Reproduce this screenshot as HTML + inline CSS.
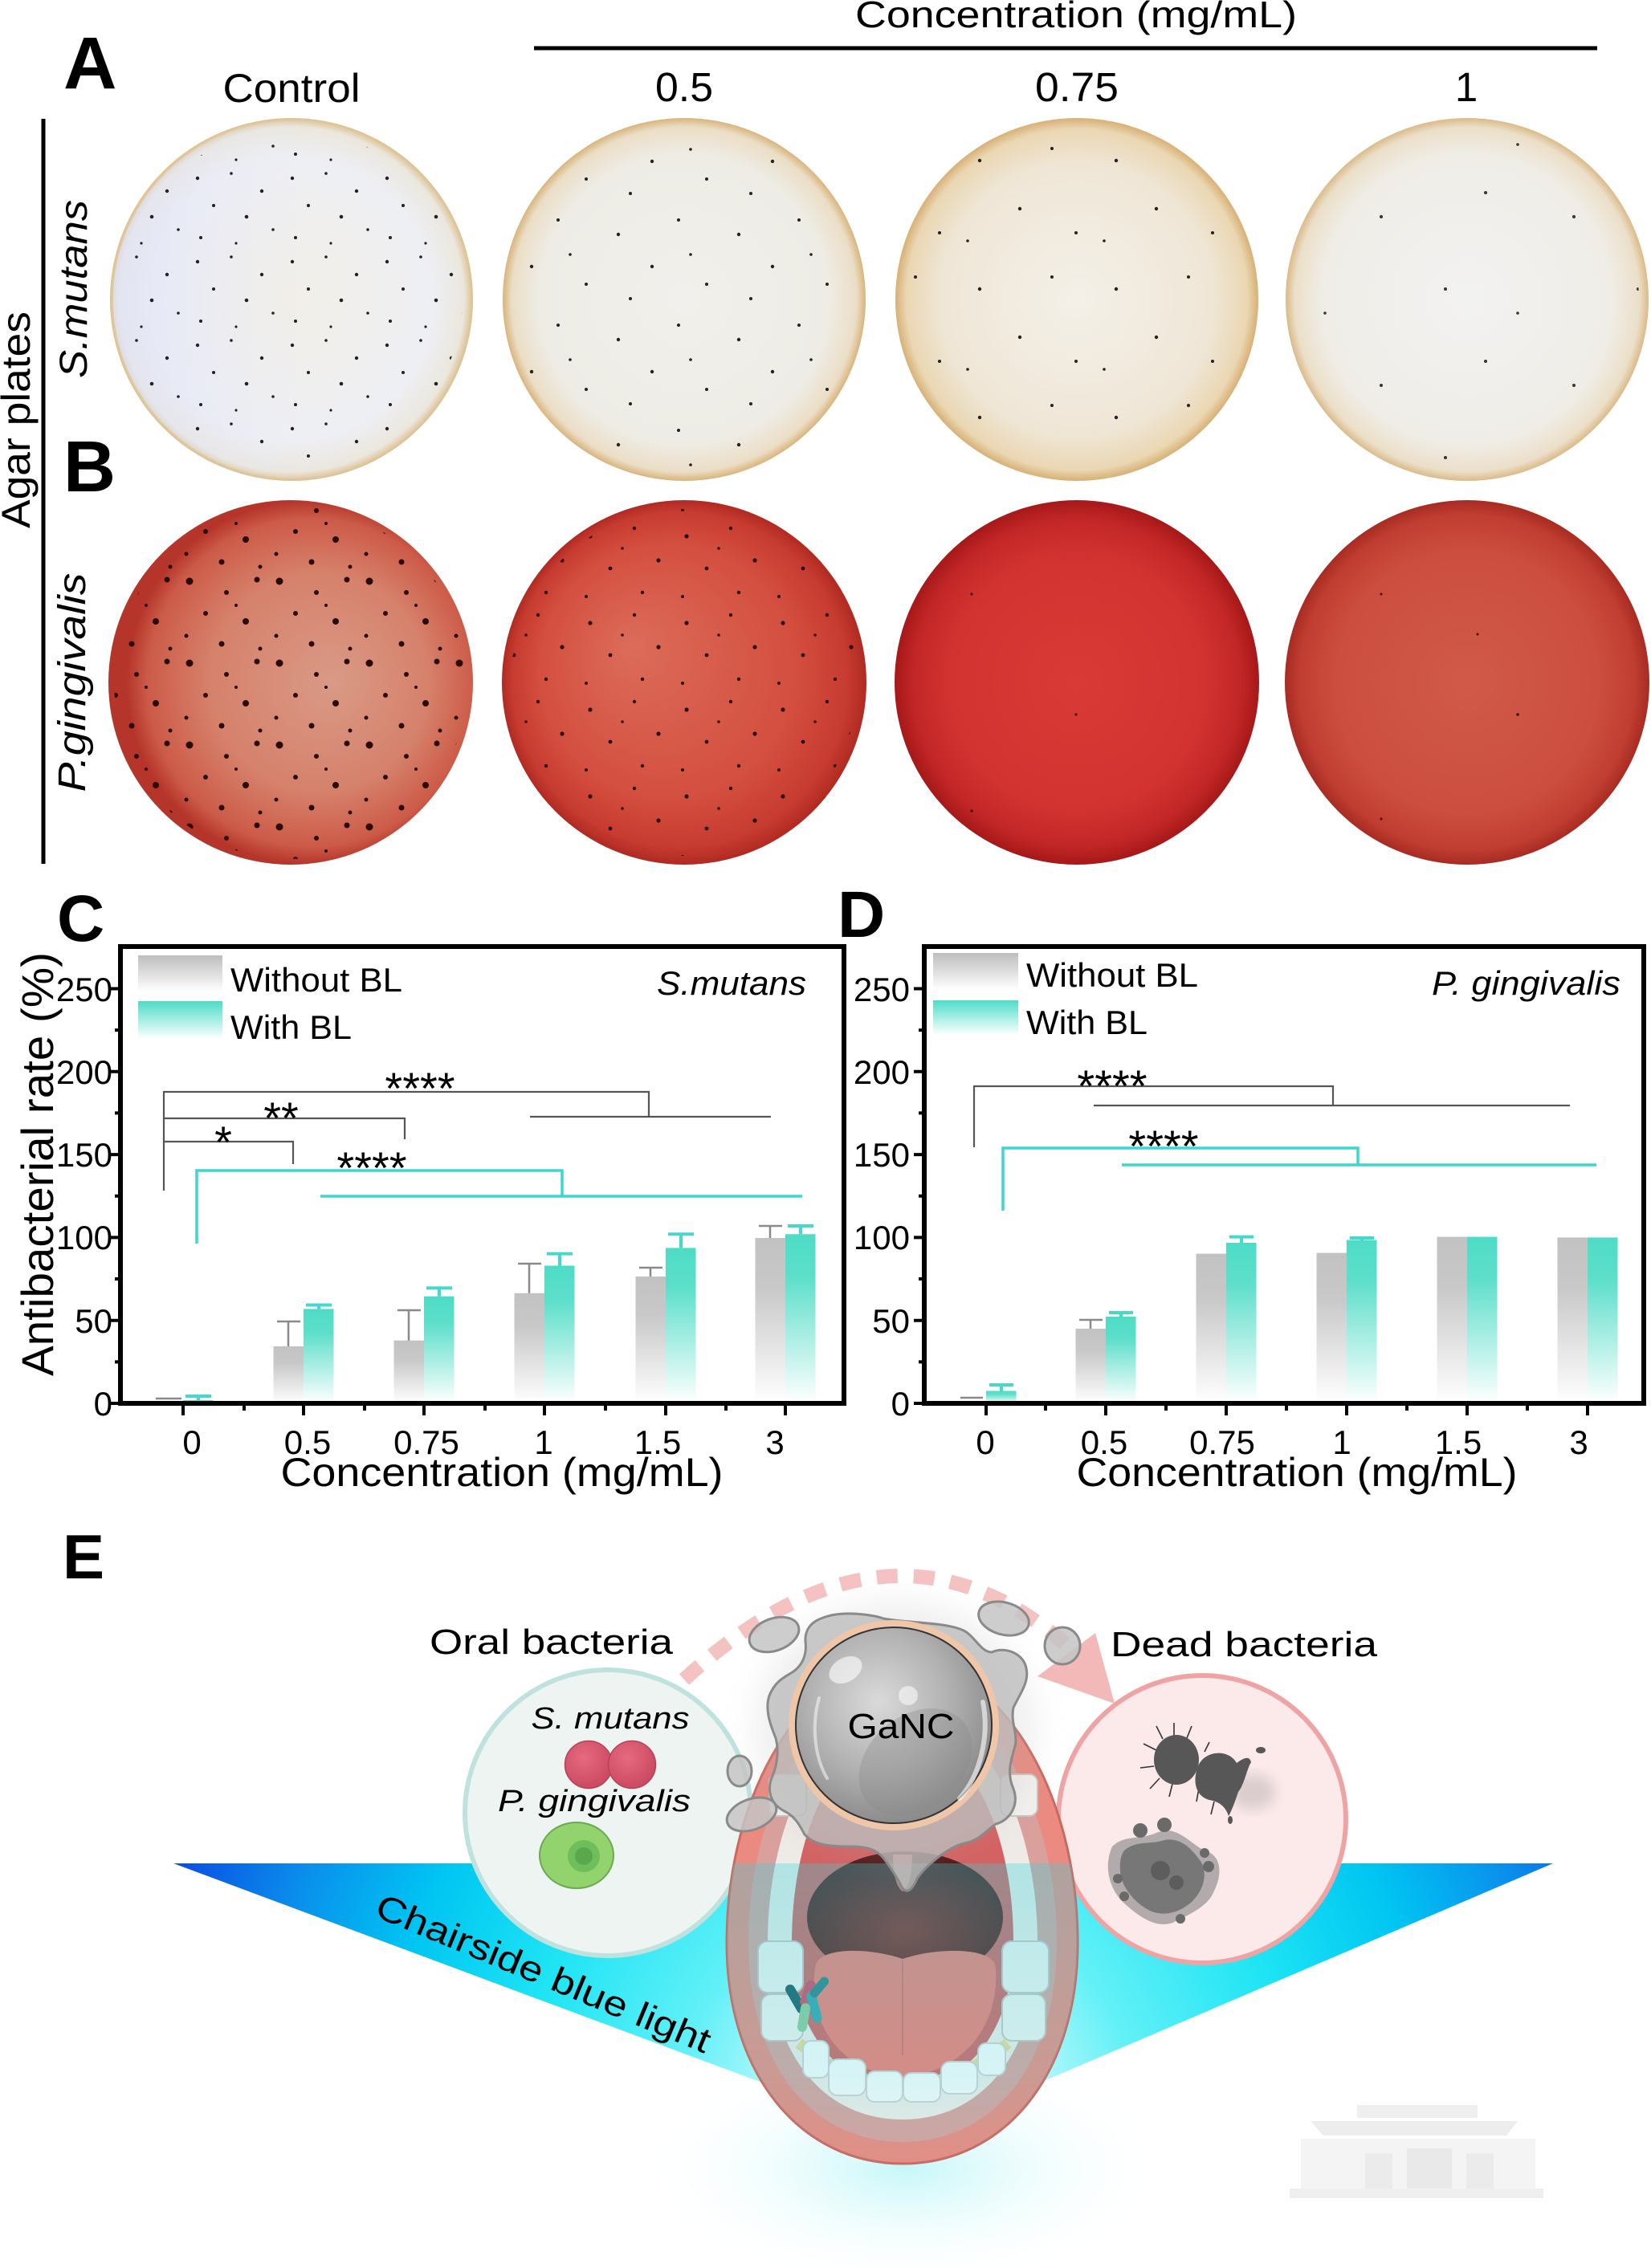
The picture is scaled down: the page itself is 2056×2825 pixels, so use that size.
<!DOCTYPE html>
<html>
<head>
<meta charset="utf-8">
<style>
html,body{margin:0;padding:0;background:#fff;}
svg{display:block;}
text{font-family:"Liberation Sans",Arial,Helvetica,sans-serif;fill:#000;}
</style>
</head>
<body>
<svg width="2056" height="2825" viewBox="0 0 2056 2825" xmlns="http://www.w3.org/2000/svg">
<defs>
  <!-- plate gradients -->
  <radialGradient id="gS0" cx="0.5" cy="0.5" r="0.5">
    <stop offset="0" stop-color="#f2efe7"/>
    <stop offset="0.78" stop-color="#eeeff4"/>
    <stop offset="0.95" stop-color="#ebe7de"/>
    <stop offset="1" stop-color="#dcbf8e"/>
  </radialGradient>
  <linearGradient id="gS0b" x1="0" y1="0" x2="1" y2="0">
    <stop offset="0" stop-color="#dfe3f8" stop-opacity="0.75"/>
    <stop offset="0.55" stop-color="#e8eaf6" stop-opacity="0"/>
  </linearGradient>
  <radialGradient id="gS1" cx="0.5" cy="0.5" r="0.5">
    <stop offset="0" stop-color="#f1f0ec"/>
    <stop offset="0.8" stop-color="#eeece5"/>
    <stop offset="0.95" stop-color="#ebdec6"/>
    <stop offset="1" stop-color="#d9b47c"/>
  </radialGradient>
  <radialGradient id="gS2" cx="0.5" cy="0.5" r="0.5">
    <stop offset="0" stop-color="#f4f0e8"/>
    <stop offset="0.75" stop-color="#efe6d6"/>
    <stop offset="0.94" stop-color="#ead7b3"/>
    <stop offset="1" stop-color="#d8b075"/>
  </radialGradient>
  <radialGradient id="gS3" cx="0.5" cy="0.5" r="0.5">
    <stop offset="0" stop-color="#f2f2f1"/>
    <stop offset="0.8" stop-color="#f0ede7"/>
    <stop offset="0.95" stop-color="#ebdfc8"/>
    <stop offset="1" stop-color="#dbba88"/>
  </radialGradient>
  <radialGradient id="gP0" cx="0.55" cy="0.5" r="0.5" fx="0.62" fy="0.5">
    <stop offset="0" stop-color="#d99a86"/>
    <stop offset="0.6" stop-color="#d6816b"/>
    <stop offset="0.9" stop-color="#cc5b48"/>
    <stop offset="1" stop-color="#b5352a"/>
  </radialGradient>
  <radialGradient id="gP1" cx="0.5" cy="0.5" r="0.5" fx="0.35" fy="0.4">
    <stop offset="0" stop-color="#dc6c5a"/>
    <stop offset="0.7" stop-color="#d44f3f"/>
    <stop offset="0.92" stop-color="#c73b30"/>
    <stop offset="1" stop-color="#b02a22"/>
  </radialGradient>
  <radialGradient id="gP2" cx="0.5" cy="0.5" r="0.5">
    <stop offset="0" stop-color="#d93a35"/>
    <stop offset="0.7" stop-color="#d23331"/>
    <stop offset="0.9" stop-color="#c22626"/>
    <stop offset="1" stop-color="#a61818"/>
  </radialGradient>
  <radialGradient id="gP3" cx="0.5" cy="0.5" r="0.5">
    <stop offset="0" stop-color="#d05a48"/>
    <stop offset="0.72" stop-color="#cc4e3e"/>
    <stop offset="0.92" stop-color="#c03d31"/>
    <stop offset="1" stop-color="#a82b22"/>
  </radialGradient>

  <!-- dot patterns -->
  <pattern id="dSM" width="118" height="104" patternUnits="userSpaceOnUse">
    <g fill="#222"><circle cx="10" cy="14" r="2.2"/><circle cx="52" cy="8" r="1.8"/><circle cx="90" cy="30" r="2.2"/><circle cx="30" cy="48" r="2"/><circle cx="71" cy="62" r="2.3"/><circle cx="104" cy="78" r="1.8"/><circle cx="14" cy="88" r="2"/><circle cx="58" cy="95" r="1.6"/></g>
  </pattern>
  <pattern id="dS05" width="150" height="131" patternUnits="userSpaceOnUse">
    <g fill="#222"><circle cx="20" cy="30" r="2.2"/><circle cx="95" cy="12" r="2"/><circle cx="62" cy="70" r="2.2"/><circle cx="130" cy="92" r="2"/><circle cx="35" cy="110" r="2"/><circle cx="110" cy="55" r="1.8"/></g>
  </pattern>
  <pattern id="dS075" width="170" height="160" patternUnits="userSpaceOnUse">
    <g fill="#222"><circle cx="30" cy="40" r="2.2"/><circle cx="120" cy="25" r="2"/><circle cx="80" cy="100" r="2.2"/><circle cx="150" cy="130" r="2"/><circle cx="15" cy="140" r="1.8"/></g>
  </pattern>
  <pattern id="dS1" width="240" height="210" patternUnits="userSpaceOnUse">
    <g fill="#333"><circle cx="40" cy="60" r="2"/><circle cx="170" cy="30" r="2"/><circle cx="120" cy="150" r="2"/><circle cx="210" cy="180" r="1.8"/></g>
  </pattern>
  <pattern id="dPG" width="112" height="102" patternUnits="userSpaceOnUse">
    <g fill="#2a0a0a"><circle cx="12" cy="10" r="4.5"/><circle cx="58" cy="24" r="3"/><circle cx="96" cy="8" r="3.5"/><circle cx="32" cy="50" r="3"/><circle cx="82" cy="60" r="4"/><circle cx="8" cy="78" r="2.5"/><circle cx="52" cy="88" r="3.5"/><circle cx="100" cy="94" r="2.5"/><circle cx="70" cy="40" r="2"/></g>
  </pattern>
  <pattern id="dPG05" width="120" height="108" patternUnits="userSpaceOnUse">
    <g fill="#2a0a0a"><circle cx="15" cy="20" r="2.6"/><circle cx="70" cy="10" r="2.2"/><circle cx="100" cy="50" r="2.6"/><circle cx="40" cy="60" r="2.4"/><circle cx="80" cy="90" r="2.2"/><circle cx="10" cy="95" r="2"/><circle cx="55" cy="35" r="1.8"/></g>
  </pattern>
  <pattern id="dPG075" width="320" height="270" patternUnits="userSpaceOnUse">
    <g fill="#3a0a0a"><circle cx="60" cy="80" r="1.6"/><circle cx="250" cy="200" r="1.6"/></g>
  </pattern>
  <pattern id="dPG1" width="300" height="280" patternUnits="userSpaceOnUse">
    <g fill="#3a0a0a"><circle cx="90" cy="50" r="1.8"/><circle cx="220" cy="180" r="1.5"/><circle cx="40" cy="230" r="1.5"/></g>
  </pattern>

  <!-- bar gradients -->
  <linearGradient id="bG" x1="0" y1="0" x2="0" y2="1">
    <stop offset="0" stop-color="#c2c2c2"/>
    <stop offset="0.3" stop-color="#c8c8c8"/>
    <stop offset="1" stop-color="#ffffff"/>
  </linearGradient>
  <linearGradient id="bT" x1="0" y1="0" x2="0" y2="1">
    <stop offset="0" stop-color="#4edcc6"/>
    <stop offset="0.25" stop-color="#5cdfca"/>
    <stop offset="1" stop-color="#ffffff"/>
  </linearGradient>
  <linearGradient id="lG" x1="0" y1="0" x2="0" y2="1">
    <stop offset="0" stop-color="#bdbdbd"/>
    <stop offset="1" stop-color="#ffffff"/>
  </linearGradient>
  <linearGradient id="lT" x1="0" y1="0" x2="0" y2="1">
    <stop offset="0" stop-color="#4ddcc8"/>
    <stop offset="1" stop-color="#ffffff"/>
  </linearGradient>

  <!-- panel E gradients -->
  <radialGradient id="triG" gradientUnits="userSpaceOnUse" cx="1130" cy="2640" r="960">
    <stop offset="0" stop-color="#ffffff"/>
    <stop offset="0.12" stop-color="#d8fbfc"/>
    <stop offset="0.3" stop-color="#62f0f7"/>
    <stop offset="0.5" stop-color="#1ee4f4"/>
    <stop offset="0.68" stop-color="#00c6f2"/>
    <stop offset="0.85" stop-color="#0a8cec"/>
    <stop offset="1" stop-color="#0a4ee2"/>
  </radialGradient>
  <radialGradient id="glowG" cx="0.5" cy="0.5" r="0.5">
    <stop offset="0" stop-color="#bff6f8" stop-opacity="0.9"/>
    <stop offset="1" stop-color="#ffffff" stop-opacity="0"/>
  </radialGradient>
  <radialGradient id="sphG" cx="0.42" cy="0.38" r="0.62">
    <stop offset="0" stop-color="#dadada"/>
    <stop offset="0.6" stop-color="#b0b0b0"/>
    <stop offset="1" stop-color="#8c8c8c"/>
  </radialGradient>
  <linearGradient id="mouthCyan" gradientUnits="userSpaceOnUse" x1="0" y1="2321" x2="0" y2="2700">
    <stop offset="0" stop-color="#2fd6e0" stop-opacity="0.32"/>
    <stop offset="0.7" stop-color="#40e0e8" stop-opacity="0.18"/>
    <stop offset="1" stop-color="#40e0e8" stop-opacity="0.04"/>
  </linearGradient>
  <radialGradient id="throatG" cx="0.5" cy="0.6" r="0.6">
    <stop offset="0" stop-color="#8c2a26"/>
    <stop offset="1" stop-color="#4e1818"/>
  </radialGradient>
  <radialGradient id="redCocc" cx="0.4" cy="0.35" r="0.7">
    <stop offset="0" stop-color="#e66a80"/>
    <stop offset="1" stop-color="#c9475f"/>
  </radialGradient>
  <filter id="blur8" x="-20%" y="-20%" width="140%" height="140%"><feGaussianBlur stdDeviation="8"/></filter>
  <filter id="blur20" x="-30%" y="-30%" width="160%" height="160%"><feGaussianBlur stdDeviation="20"/></filter>
  <clipPath id="lipClip">
    <path d="M1124 2070 C1245 2070 1342 2230 1342 2420 C1342 2585 1250 2695 1124 2695 C998 2695 905 2585 905 2420 C905 2230 1003 2070 1124 2070 Z"/>
  </clipPath>
</defs>

<rect x="0" y="0" width="2056" height="2825" fill="#ffffff"/>

<!-- ================= PANEL A/B ================= -->
<text x="79" y="110" font-size="92" font-weight="bold">A</text>
<text x="1340" y="34" font-size="46" text-anchor="middle" textLength="550" lengthAdjust="spacingAndGlyphs">Concentration (mg/mL)</text>
<line x1="665" y1="60" x2="1989" y2="60" stroke="#000" stroke-width="5"/>
<text x="363" y="127" font-size="50" text-anchor="middle" textLength="171" lengthAdjust="spacingAndGlyphs">Control</text>
<text x="852" y="126" font-size="51" text-anchor="middle" textLength="72" lengthAdjust="spacingAndGlyphs">0.5</text>
<text x="1341" y="126" font-size="51" text-anchor="middle" textLength="104" lengthAdjust="spacingAndGlyphs">0.75</text>
<text x="1826" y="126" font-size="51" text-anchor="middle">1</text>

<line x1="54" y1="148" x2="54" y2="1076" stroke="#000" stroke-width="5"/>
<text transform="translate(37,523) rotate(-90)" font-size="50" text-anchor="middle" textLength="270" lengthAdjust="spacingAndGlyphs">Agar plates</text>
<text transform="translate(108,360) rotate(-90)" font-size="48" font-style="italic" text-anchor="middle" textLength="222" lengthAdjust="spacingAndGlyphs">S.mutans</text>
<text transform="translate(106,850) rotate(-90)" font-size="48" font-style="italic" text-anchor="middle" textLength="273" lengthAdjust="spacingAndGlyphs">P.gingivalis</text>
<text x="79" y="612" font-size="90" font-weight="bold">B</text>

<!-- top row plates -->
<circle cx="363" cy="373" r="226" fill="url(#gS0)"/>
<circle cx="363" cy="373" r="222" fill="url(#gS0b)"/>
<circle cx="363" cy="373" r="212" fill="url(#dSM)"/>
<circle cx="852" cy="373" r="226" fill="url(#gS1)"/>
<circle cx="852" cy="373" r="214" fill="url(#dS05)"/>
<circle cx="1341" cy="373" r="226" fill="url(#gS2)"/>
<circle cx="1341" cy="373" r="214" fill="url(#dS075)"/>
<circle cx="1827" cy="373" r="226" fill="url(#gS3)"/>
<circle cx="1827" cy="373" r="214" fill="url(#dS1)"/>

<!-- bottom row plates -->
<circle cx="362" cy="850" r="227" fill="url(#gP0)"/>
<circle cx="362" cy="850" r="220" fill="url(#dPG)"/>
<circle cx="852" cy="850" r="227" fill="url(#gP1)"/>
<circle cx="852" cy="850" r="216" fill="url(#dPG05)"/>
<circle cx="1341" cy="850" r="227" fill="url(#gP2)"/>
<circle cx="1341" cy="850" r="216" fill="url(#dPG075)"/>
<circle cx="1827" cy="850" r="227" fill="url(#gP3)"/>
<circle cx="1827" cy="850" r="216" fill="url(#dPG1)"/>

<!-- ================= PANEL C ================= -->
<text x="71" y="1172" font-size="82" font-weight="bold">C</text>
<rect x="172" y="1190" width="105" height="45" fill="url(#lG)"/>
<rect x="172" y="1247" width="105" height="47" fill="url(#lT)"/>
<text x="287" y="1235" font-size="42" textLength="214" lengthAdjust="spacingAndGlyphs">Without BL</text>
<text x="287" y="1294" font-size="42" textLength="151" lengthAdjust="spacingAndGlyphs">With BL</text>
<text x="1004" y="1239" font-size="42" font-style="italic" text-anchor="end" textLength="186" lengthAdjust="spacingAndGlyphs">S.mutans</text>

<g fill="none" stroke="#555" stroke-width="2.2">
  <path d="M204 1483 V1360 H808 V1390"/>
  <path d="M660 1391 H960"/>
  <path d="M204 1393 H504 V1419"/>
  <path d="M204 1422 H365 V1450"/>
</g>
<g fill="none" stroke="#3fd6d0" stroke-width="3.5">
  <path d="M245 1549 V1458 H700 V1490"/>
  <path d="M399 1490 H999"/>
</g>
<text x="523" y="1375" font-size="56" text-anchor="middle">****</text>
<text x="350" y="1412" font-size="56" text-anchor="middle">**</text>
<text x="278" y="1442" font-size="56" text-anchor="middle">*</text>
<text x="463" y="1474" font-size="56" text-anchor="middle">****</text>

<g>
  <rect x="228" y="1744" width="37.5" height="4" fill="#5ddfca"/>
  <rect x="340.5" y="1677" width="37.5" height="71" fill="url(#bG)"/>
  <rect x="378" y="1630.4" width="37.5" height="117.6" fill="url(#bT)"/>
  <rect x="490.5" y="1669.7" width="37.5" height="78.3" fill="url(#bG)"/>
  <rect x="528" y="1614.7" width="37.5" height="133.3" fill="url(#bT)"/>
  <rect x="640.5" y="1610.8" width="37.5" height="137.2" fill="url(#bG)"/>
  <rect x="678" y="1576.5" width="37.5" height="171.5" fill="url(#bT)"/>
  <rect x="791.5" y="1590" width="37.5" height="158" fill="url(#bG)"/>
  <rect x="829" y="1554.4" width="37.5" height="193.6" fill="url(#bT)"/>
  <rect x="940.5" y="1542" width="37.5" height="206" fill="url(#bG)"/>
  <rect x="978" y="1537.3" width="37.5" height="210.7" fill="url(#bT)"/>
</g>
<g fill="none" stroke="#8a8a8a" stroke-width="2.5">
  <path d="M194 1742 H226"/>
  <path d="M359 1677 V1646 M345 1646 H374"/>
  <path d="M509 1669.7 V1632 M495 1632 H524"/>
  <path d="M659 1610.8 V1574 M645 1574 H674"/>
  <path d="M810 1590 V1579 M796 1579 H825"/>
  <path d="M959 1542 V1527 M945 1527 H974"/>
</g>
<g fill="none" stroke="#45d8cc" stroke-width="4">
  <path d="M247 1744 V1739 M231 1739 H263"/>
  <path d="M397 1630.4 V1625.5 M381 1625.5 H413"/>
  <path d="M547 1614.7 V1604.4 M531 1604.4 H563"/>
  <path d="M697 1576.5 V1561.6 M681 1561.6 H713"/>
  <path d="M848 1554.4 V1537.3 M832 1537.3 H864"/>
  <path d="M997 1537.3 V1527 M981 1527 H1013"/>
</g>

<rect x="150" y="1179" width="901" height="569" fill="none" stroke="#000" stroke-width="6"/>
<g stroke="#000" stroke-width="4">
  <path d="M137 1748 H150 M137 1644.7 H150 M137 1541.4 H150 M137 1438.1 H150 M137 1334.8 H150 M137 1231.5 H150"/>
  <path d="M143 1696.4 H150 M143 1593 H150 M143 1489.7 H150 M143 1386.4 H150 M143 1283.1 H150"/>
  <path d="M228 1748 V1763 M378 1748 V1763 M528 1748 V1763 M678 1748 V1763 M829 1748 V1763 M978 1748 V1763"/>
  <path d="M304 1748 V1757 M454 1748 V1757 M604 1748 V1757 M754 1748 V1757 M904 1748 V1757"/>
</g>
<g font-size="42" text-anchor="end">
  <text x="140" y="1763">0</text>
  <text x="140" y="1660">50</text>
  <text x="140" y="1556">100</text>
  <text x="140" y="1453">150</text>
  <text x="140" y="1350">200</text>
  <text x="140" y="1247">250</text>
</g>
<g font-size="42" text-anchor="middle">
  <text x="239" y="1811">0</text>
  <text x="383" y="1811">0.5</text>
  <text x="531" y="1811">0.75</text>
  <text x="677" y="1811">1</text>
  <text x="819" y="1811">1.5</text>
  <text x="965" y="1811">3</text>
</g>
<text x="625" y="1851" font-size="50" text-anchor="middle" textLength="551" lengthAdjust="spacingAndGlyphs">Concentration (mg/mL)</text>
<text transform="translate(66,1450) rotate(-90)" font-size="56" text-anchor="middle" textLength="528" lengthAdjust="spacingAndGlyphs">Antibacterial rate (%)</text>

<!-- ================= PANEL D ================= -->
<text x="1043" y="1167" font-size="82" font-weight="bold">D</text>
<rect x="1162" y="1187" width="106" height="46" fill="url(#lG)"/>
<rect x="1162" y="1246" width="106" height="43" fill="url(#lT)"/>
<text x="1278" y="1229" font-size="42" textLength="214" lengthAdjust="spacingAndGlyphs">Without BL</text>
<text x="1278" y="1288" font-size="42" textLength="151" lengthAdjust="spacingAndGlyphs">With BL</text>
<text x="2018" y="1239" font-size="42" font-style="italic" text-anchor="end" textLength="235" lengthAdjust="spacingAndGlyphs">P. gingivalis</text>

<g fill="none" stroke="#555" stroke-width="2.2">
  <path d="M1213 1429 V1353 H1660 V1377"/>
  <path d="M1362 1377 H1955"/>
</g>
<g fill="none" stroke="#3fd6d0" stroke-width="3.5">
  <path d="M1249 1508 V1430 H1691 V1451"/>
  <path d="M1397 1451 H1988"/>
</g>
<text x="1385" y="1372" font-size="56" text-anchor="middle">****</text>
<text x="1449" y="1447" font-size="56" text-anchor="middle">****</text>

<g>
  <rect x="1228" y="1732.5" width="37.5" height="15.5" fill="url(#bT)"/>
  <rect x="1339.5" y="1655" width="37.5" height="93" fill="url(#bG)"/>
  <rect x="1377" y="1640" width="37.5" height="108" fill="url(#bT)"/>
  <rect x="1489.5" y="1561.6" width="37.5" height="186.4" fill="url(#bG)"/>
  <rect x="1527" y="1548" width="37.5" height="200" fill="url(#bT)"/>
  <rect x="1639.5" y="1560.6" width="37.5" height="187.4" fill="url(#bG)"/>
  <rect x="1677" y="1544.5" width="37.5" height="203.5" fill="url(#bT)"/>
  <rect x="1789.5" y="1540.6" width="37.5" height="207.4" fill="url(#bG)"/>
  <rect x="1827" y="1540.6" width="37.5" height="207.4" fill="url(#bT)"/>
  <rect x="1939.5" y="1541.4" width="37.5" height="206.6" fill="url(#bG)"/>
  <rect x="1977" y="1541.4" width="37.5" height="206.6" fill="url(#bT)"/>
</g>
<g fill="none" stroke="#8a8a8a" stroke-width="2.5">
  <path d="M1196 1741 H1224"/>
  <path d="M1358 1655 V1644 M1344 1644 H1373"/>
</g>
<g fill="none" stroke="#45d8cc" stroke-width="4">
  <path d="M1247 1732.5 V1725 M1232 1725 H1262"/>
  <path d="M1396 1640 V1635 M1381 1635 H1411"/>
  <path d="M1546 1548 V1540.6 M1531 1540.6 H1561"/>
  <path d="M1696 1544.5 V1542 M1681 1542 H1711"/>
</g>

<rect x="1151" y="1179" width="896" height="569" fill="none" stroke="#000" stroke-width="6"/>
<g stroke="#000" stroke-width="4">
  <path d="M1138 1748 H1151 M1138 1644.7 H1151 M1138 1541.4 H1151 M1138 1438.1 H1151 M1138 1334.8 H1151 M1138 1231.5 H1151"/>
  <path d="M1144 1696.4 H1151 M1144 1593 H1151 M1144 1489.7 H1151 M1144 1386.4 H1151 M1144 1283.1 H1151"/>
  <path d="M1228 1748 V1763 M1377 1748 V1763 M1527 1748 V1763 M1677 1748 V1763 M1827 1748 V1763 M1977 1748 V1763"/>
  <path d="M1302 1748 V1757 M1452 1748 V1757 M1602 1748 V1757 M1752 1748 V1757 M1902 1748 V1757"/>
</g>
<g font-size="42" text-anchor="end">
  <text x="1133" y="1763">0</text>
  <text x="1133" y="1660">50</text>
  <text x="1133" y="1556">100</text>
  <text x="1133" y="1453">150</text>
  <text x="1133" y="1350">200</text>
  <text x="1133" y="1247">250</text>
</g>
<g font-size="42" text-anchor="middle">
  <text x="1227" y="1811">0</text>
  <text x="1375" y="1811">0.5</text>
  <text x="1522" y="1811">0.75</text>
  <text x="1671" y="1811">1</text>
  <text x="1816" y="1811">1.5</text>
  <text x="1966" y="1811">3</text>
</g>
<text x="1615" y="1851" font-size="50" text-anchor="middle" textLength="549" lengthAdjust="spacingAndGlyphs">Concentration (mg/mL)</text>

<!-- ================= PANEL E ================= -->
<text x="78" y="1966" font-size="78" font-weight="bold">E</text>

<ellipse cx="1128" cy="2700" rx="330" ry="150" fill="url(#glowG)"/>
<polygon points="216,2321 1934,2321 1134,2663" fill="url(#triG)"/>

<!-- watermark building -->
<g opacity="0.55">
  <rect x="1690" y="2622" width="150" height="16" fill="#e3e3e3"/>
  <path d="M1632 2642 L1890 2642 L1876 2660 L1648 2660 Z" fill="#e0e0e0"/>
  <rect x="1620" y="2664" width="292" height="62" fill="#ececec"/>
  <rect x="1700" y="2682" width="34" height="44" fill="#dcdcdc"/>
  <rect x="1752" y="2676" width="56" height="50" fill="#d8d8d8"/>
  <rect x="1826" y="2682" width="34" height="44" fill="#dcdcdc"/>
  <rect x="1606" y="2726" width="316" height="12" fill="#e2e2e2"/>
</g>

<!-- left circle -->
<circle cx="757" cy="2258" r="178" fill="#eef4f2" stroke="#bfe2df" stroke-width="6"/>
<circle cx="733" cy="2198" r="29.5" fill="url(#redCocc)" stroke="#b84058" stroke-width="1.5"/>
<circle cx="787" cy="2198" r="29.5" fill="url(#redCocc)" stroke="#b84058" stroke-width="1.5"/>
<ellipse cx="718" cy="2311" rx="46" ry="41" fill="#93d36d" stroke="#6aaa50" stroke-width="2"/>
<circle cx="727" cy="2312" r="20" fill="#6ebe5c"/>
<circle cx="727" cy="2312" r="11" fill="#5aa84c"/>

<!-- right circle -->
<circle cx="1497" cy="2266" r="179" fill="#fce9ea" stroke="#eea4a4" stroke-width="6"/>
<ellipse cx="1560" cy="2232" rx="28" ry="22" fill="#b8b0b0" opacity="0.5" filter="url(#blur8)"/>
<g stroke="#333" stroke-width="1.6" fill="none">
  <path d="M1448 2166 L1440 2150 M1462 2162 L1462 2146 M1478 2165 L1484 2150 M1440 2180 L1424 2172 M1437 2200 L1420 2202 M1444 2215 L1432 2228 M1460 2222 L1456 2238 M1494 2222 L1490 2244 M1512 2244 L1508 2260 M1500 2182 L1506 2170"/>
</g>
<ellipse cx="1465" cy="2192" rx="28" ry="31" fill="#575757"/>
<path d="M1492 2200 C1500 2180 1530 2178 1540 2196 C1548 2190 1556 2186 1558 2195 C1552 2205 1550 2222 1542 2232 C1538 2244 1534 2255 1530 2262 C1526 2250 1518 2244 1506 2242 C1490 2238 1484 2220 1492 2200 Z" fill="#575757"/>
<ellipse cx="1570" cy="2180" rx="6" ry="4" fill="#575757"/>
<ellipse cx="1532" cy="2267" rx="3" ry="5" fill="#575757"/>
<g>
  <path d="M1385 2300 C1400 2285 1420 2292 1440 2283 C1465 2272 1480 2295 1500 2305 C1525 2312 1520 2340 1512 2355 C1505 2375 1480 2385 1460 2395 C1440 2402 1420 2388 1405 2375 C1385 2360 1372 2330 1385 2300 Z" fill="#b3abab"/>
  <path d="M1400 2305 C1415 2292 1432 2298 1450 2292 C1472 2288 1485 2305 1495 2318 C1505 2335 1498 2355 1485 2368 C1470 2382 1450 2388 1432 2380 C1412 2370 1395 2348 1395 2330 C1394 2320 1396 2310 1400 2305 Z" fill="#777"/>
  <circle cx="1420" cy="2280" r="9" fill="#6a6a6a"/>
  <circle cx="1450" cy="2273" r="9" fill="#6a6a6a"/>
  <circle cx="1500" cy="2308" r="6" fill="#6a6a6a"/>
  <circle cx="1505" cy="2325" r="7" fill="#6a6a6a"/>
  <circle cx="1392" cy="2340" r="6" fill="#6a6a6a"/>
  <circle cx="1400" cy="2362" r="6" fill="#6a6a6a"/>
  <circle cx="1470" cy="2390" r="6" fill="#6a6a6a"/>
  <circle cx="1445" cy="2330" r="12" fill="#5d5d5d"/>
  <circle cx="1465" cy="2345" r="9" fill="#5d5d5d"/>
</g>

<!-- mouth -->
<path d="M1124 2070 C1245 2070 1342 2230 1342 2420 C1342 2585 1250 2695 1124 2695 C998 2695 905 2585 905 2420 C905 2230 1003 2070 1124 2070 Z" fill="#ea8a80" stroke="#c96a62" stroke-width="3"/>
<path d="M1124 2100 C1228 2100 1316 2245 1316 2420 C1316 2570 1238 2668 1124 2668 C1010 2668 932 2570 932 2420 C932 2245 1020 2100 1124 2100 Z" fill="#d9a09c"/>
<path d="M1124 2125 C1215 2125 1292 2255 1292 2420 C1292 2555 1225 2640 1124 2640 C1023 2640 956 2555 956 2420 C956 2255 1033 2125 1124 2125 Z" fill="#eeeae6"/>
<path d="M1124 2160 C1200 2160 1262 2270 1262 2420 C1262 2530 1205 2600 1124 2600 C1043 2600 986 2530 986 2420 C986 2270 1048 2160 1124 2160 Z" fill="#d46262"/>
<g fill="#f2f0ee" stroke="#c9c2c0" stroke-width="2">
  <rect x="944" y="2418" width="56" height="64" rx="12"/>
  <rect x="948" y="2484" width="52" height="58" rx="12"/>
  <rect x="1248" y="2418" width="58" height="64" rx="12"/>
  <rect x="1248" y="2484" width="54" height="58" rx="12"/>
  <rect x="958" y="2210" width="46" height="52" rx="10"/>
  <rect x="1246" y="2210" width="46" height="52" rx="10"/>
</g>
<ellipse cx="1127" cy="2388" rx="122" ry="82" fill="url(#throatG)"/>
<path d="M1112 2310 C1112 2340 1118 2352 1124 2356 C1130 2352 1136 2340 1136 2310 Z" fill="#d86868"/>
<path d="M1015 2452 C1015 2425 1080 2425 1124 2440 C1168 2425 1240 2425 1240 2452 C1245 2522 1200 2582 1124 2587 C1048 2582 1005 2522 1015 2452 Z" fill="#f47a72"/>
<path d="M1124 2442 L1124 2560" stroke="#d86a64" stroke-width="2"/>
<path d="M995 2545 Q1124 2650 1255 2545" fill="none" stroke="#e8d890" stroke-width="14"/>
<g fill="#f8f8f8" stroke="#cfcfcf" stroke-width="2">
  <rect x="1000" y="2542" width="32" height="46" rx="10"/>
  <rect x="1032" y="2565" width="46" height="45" rx="11"/>
  <rect x="1079" y="2580" width="45" height="38" rx="10"/>
  <rect x="1125" y="2582" width="46" height="36" rx="10"/>
  <rect x="1172" y="2568" width="45" height="40" rx="11"/>
  <rect x="1218" y="2545" width="34" height="40" rx="10"/>
</g>
<g>
  <rect x="985" y="2470" width="12" height="40" rx="6" fill="#1e5c66" transform="rotate(-30 991 2490)"/>
  <rect x="1000" y="2466" width="12" height="34" rx="6" fill="#d04a64" transform="rotate(20 1006 2483)"/>
  <rect x="1008" y="2480" width="12" height="40" rx="6" fill="#3aa0aa" transform="rotate(-15 1014 2500)"/>
  <rect x="995" y="2495" width="12" height="36" rx="6" fill="#8cc79a" transform="rotate(10 1001 2513)"/>
  <rect x="1015" y="2460" width="11" height="30" rx="5" fill="#2f7f88" transform="rotate(40 1020 2475)"/>
</g>
<rect x="900" y="2321" width="450" height="380" fill="url(#mouthCyan)" clip-path="url(#lipClip)"/>

<!-- dashed arrow -->
<path d="M852 2092 Q1110 1854 1335 2055" fill="none" stroke="#f5c2c2" stroke-width="18" stroke-dasharray="26 20"/>
<polygon points="1292,2088 1364,2034 1388,2122" fill="#f3b9b9"/>

<!-- GaNC blob -->
<ellipse cx="1115" cy="2155" rx="175" ry="160" fill="#b0b0b0" opacity="0.2" filter="url(#blur20)"/>
<path d="M1025 2015 C1050 2005 1090 2012 1100 2016 C1130 2022 1180 2020 1202 2032 C1215 2040 1222 2058 1235 2058 C1252 2050 1275 2060 1278 2078 C1282 2095 1270 2110 1262 2127 C1258 2145 1268 2160 1264 2175 C1258 2195 1254 2210 1262 2228 C1270 2250 1256 2268 1240 2272 C1228 2280 1222 2290 1205 2295 C1190 2298 1180 2305 1170 2312 C1160 2320 1150 2328 1142 2340 C1137 2352 1130 2360 1124 2352 C1118 2340 1112 2330 1100 2314 C1090 2302 1075 2300 1060 2300 C1040 2300 1015 2300 1002 2285 C995 2272 990 2262 975 2255 C958 2245 955 2228 962 2212 C968 2198 970 2180 966 2165 C960 2150 952 2130 958 2112 C965 2095 975 2090 985 2084 C1000 2075 1005 2060 1003 2045 C1002 2030 1010 2020 1025 2015 Z" fill="#bdbdbd" fill-opacity="0.8" stroke="#8a8a8a" stroke-width="3"/>
<g fill="#c4c4c4" fill-opacity="0.85" stroke="#8a8a8a" stroke-width="3">
  <ellipse cx="964" cy="2036" rx="32" ry="20" transform="rotate(-20 964 2036)"/>
  <ellipse cx="1250" cy="2016" rx="32" ry="20" transform="rotate(15 1250 2016)"/>
  <ellipse cx="1323" cy="2050" rx="22" ry="23"/>
  <ellipse cx="921" cy="2206" rx="15" ry="19"/>
  <ellipse cx="936" cy="2260" rx="32" ry="19" transform="rotate(-20 936 2260)"/>
</g>
<circle cx="1113" cy="2149" r="127" fill="none" stroke="#efc6a8" stroke-width="8"/>
<circle cx="1113" cy="2149" r="122" fill="url(#sphG)" stroke="#333" stroke-width="2"/>
<ellipse cx="1140" cy="2195" rx="78" ry="58" transform="rotate(-40 1140 2195)" fill="#8a8a8a" opacity="0.35"/>
<ellipse cx="1053" cy="2080" rx="22" ry="15" transform="rotate(-30 1053 2080)" fill="#ffffff" opacity="0.6"/>
<circle cx="1131" cy="2112" r="12" fill="#ffffff" opacity="0.55"/>
<path d="M1224 2120 C1232 2160 1222 2210 1195 2240" fill="none" stroke="#ffffff" stroke-width="6" opacity="0.6" stroke-linecap="round"/>
<path d="M1020 2115 C1010 2150 1015 2190 1030 2215" fill="none" stroke="#ffffff" stroke-width="4" opacity="0.5" stroke-linecap="round"/>

<!-- E texts -->
<text x="535" y="2060" font-size="44" textLength="303" lengthAdjust="spacingAndGlyphs">Oral bacteria</text>
<text x="1383" y="2063" font-size="44" textLength="332" lengthAdjust="spacingAndGlyphs">Dead bacteria</text>
<text x="760" y="2153" font-size="38" font-style="italic" text-anchor="middle" textLength="197" lengthAdjust="spacingAndGlyphs">S. mutans</text>
<text x="740" y="2256" font-size="38" font-style="italic" text-anchor="middle" textLength="240" lengthAdjust="spacingAndGlyphs">P. gingivalis</text>
<text x="1122" y="2165" font-size="44" text-anchor="middle" textLength="133" lengthAdjust="spacingAndGlyphs">GaNC</text>
<text transform="translate(671,2472) rotate(22.6)" font-size="44" text-anchor="middle" textLength="447" lengthAdjust="spacingAndGlyphs">Chairside blue light</text>
</svg>
</body>
</html>
